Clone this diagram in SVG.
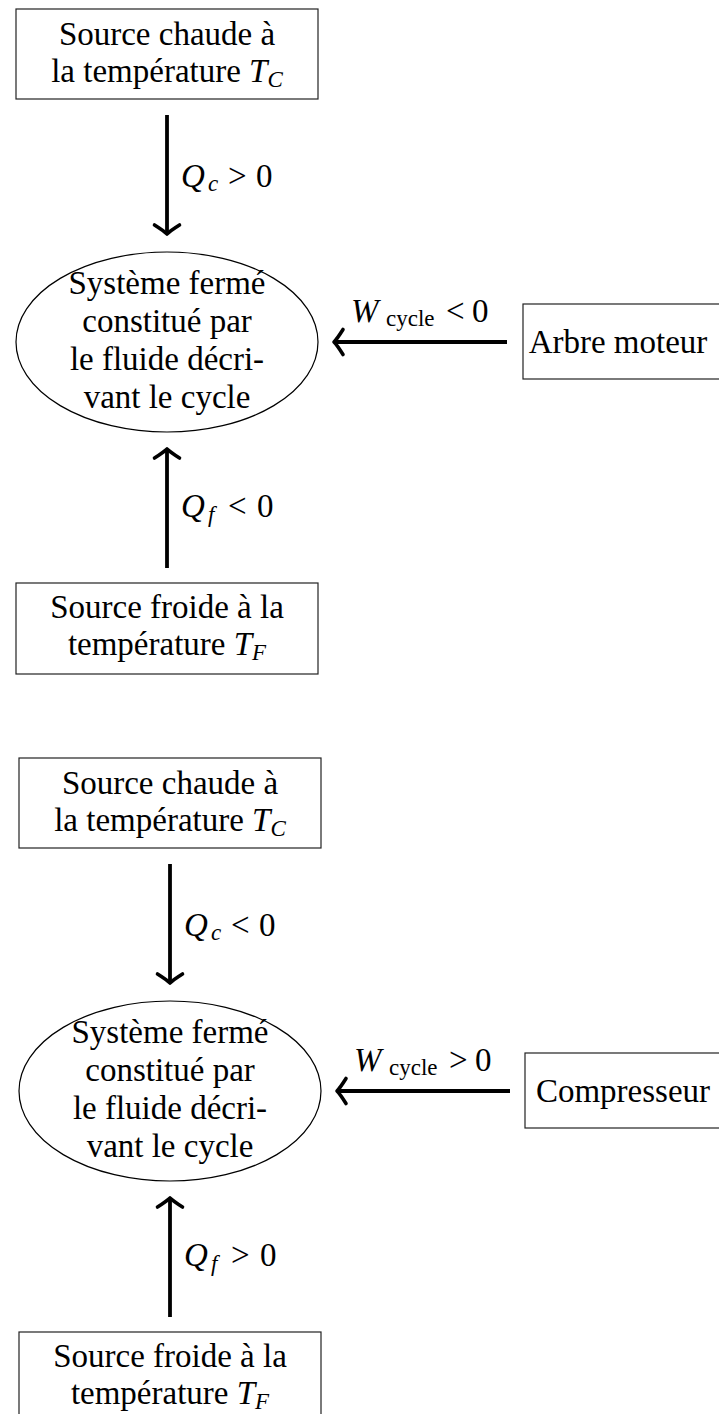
<svg xmlns="http://www.w3.org/2000/svg" width="719" height="1414" viewBox="0 0 719 1414">
<defs>
<marker id="arr" markerUnits="userSpaceOnUse" markerWidth="30" markerHeight="30" viewBox="-15 -15 30 30" refX="0" refY="0" orient="auto" overflow="visible">
<path d="M -9,-12.5 Q -3,-3 0,0 Q -3,3 -9,12.5" fill="none" stroke="#000" stroke-width="3.6" stroke-linecap="round" stroke-linejoin="round"/>
</marker>
<style>
.box{fill:#fff;stroke:#222;stroke-width:1.2}
.ell{fill:#fff;stroke:#000;stroke-width:1.2}
.t{font-family:"Liberation Serif","Times New Roman",serif;font-size:33px;fill:#000;text-anchor:middle}
.m{font-family:"Liberation Serif","Times New Roman",serif;font-size:33px;fill:#000}
.it{font-style:italic}
.sub{font-size:23px}
.con{stroke:#000;stroke-width:3.8;fill:none;marker-end:url(#arr)}
</style>
</defs>
<rect width="719" height="1414" fill="#fff"/>

<!-- Diagram 1 -->
<g id="connectors1">
<line class="con" x1="167" y1="115" x2="167" y2="234"/>
<line class="con" x1="507" y1="342" x2="334" y2="342"/>
<line class="con" x1="167" y1="568" x2="167" y2="449"/>
<text class="m" y="187"><tspan class="it" x="181">Q</tspan><tspan class="it sub" x="208" y="191">c</tspan><tspan x="228" y="187">&gt;</tspan><tspan x="256">0</tspan></text>
<text class="m" y="322"><tspan class="it" x="351">W</tspan><tspan class="sub" x="386" y="326">cycle</tspan><tspan x="446" y="322">&lt;</tspan><tspan x="472">0</tspan></text>
<text class="m" y="517"><tspan class="it" x="181">Q</tspan><tspan class="it sub" x="208" y="522">f</tspan><tspan x="228" y="517">&lt;</tspan><tspan x="257">0</tspan></text>
</g>
<g id="hot1">
<rect class="box" x="16" y="9" width="302" height="90"/>
<text class="t" x="167" y="45">Source chaude à</text>
<text class="t" x="167" y="82">la température <tspan class="it">T</tspan><tspan class="it sub" dy="5">C</tspan></text>
</g>
<g id="system1">
<ellipse class="ell" cx="167" cy="342" rx="151" ry="90"/>
<text class="t" x="167" y="294">Système fermé</text>
<text class="t" x="167" y="332">constitué par</text>
<text class="t" x="167" y="370">le fluide décri-</text>
<text class="t" x="167" y="408">vant le cycle</text>
</g>
<g id="shaft1">
<rect class="box" x="523" y="304" width="210" height="75"/>
<text class="t" x="618" y="353">Arbre moteur</text>
</g>
<g id="cold1">
<rect class="box" x="16" y="583" width="302" height="91"/>
<text class="t" x="167" y="618">Source froide à la</text>
<text class="t" x="167" y="655">température <tspan class="it">T</tspan><tspan class="it sub" dy="5">F</tspan></text>
</g>

<!-- Diagram 2 -->
<g id="connectors2">
<line class="con" x1="170" y1="864" x2="170" y2="983"/>
<line class="con" x1="510" y1="1091" x2="337" y2="1091"/>
<line class="con" x1="170" y1="1317" x2="170" y2="1198"/>
<text class="m" y="936"><tspan class="it" x="184">Q</tspan><tspan class="it sub" x="211" y="940">c</tspan><tspan x="231" y="936">&lt;</tspan><tspan x="259">0</tspan></text>
<text class="m" y="1071"><tspan class="it" x="354">W</tspan><tspan class="sub" x="389" y="1075">cycle</tspan><tspan x="449" y="1071">&gt;</tspan><tspan x="475">0</tspan></text>
<text class="m" y="1266"><tspan class="it" x="184">Q</tspan><tspan class="it sub" x="211" y="1271">f</tspan><tspan x="231" y="1266">&gt;</tspan><tspan x="260">0</tspan></text>
</g>
<g id="hot2">
<rect class="box" x="19" y="758" width="302" height="90"/>
<text class="t" x="170" y="794">Source chaude à</text>
<text class="t" x="170" y="831">la température <tspan class="it">T</tspan><tspan class="it sub" dy="5">C</tspan></text>
</g>
<g id="system2">
<ellipse class="ell" cx="170" cy="1091" rx="151" ry="90"/>
<text class="t" x="170" y="1043">Système fermé</text>
<text class="t" x="170" y="1081">constitué par</text>
<text class="t" x="170" y="1119">le fluide décri-</text>
<text class="t" x="170" y="1157">vant le cycle</text>
</g>
<g id="compressor2">
<rect class="box" x="525" y="1053" width="210" height="75"/>
<text class="t" x="623" y="1102">Compresseur</text>
</g>
<g id="cold2">
<rect class="box" x="19" y="1332" width="302" height="91"/>
<text class="t" x="170" y="1367">Source froide à la</text>
<text class="t" x="170" y="1404">température <tspan class="it">T</tspan><tspan class="it sub" dy="5">F</tspan></text>
</g>
</svg>
